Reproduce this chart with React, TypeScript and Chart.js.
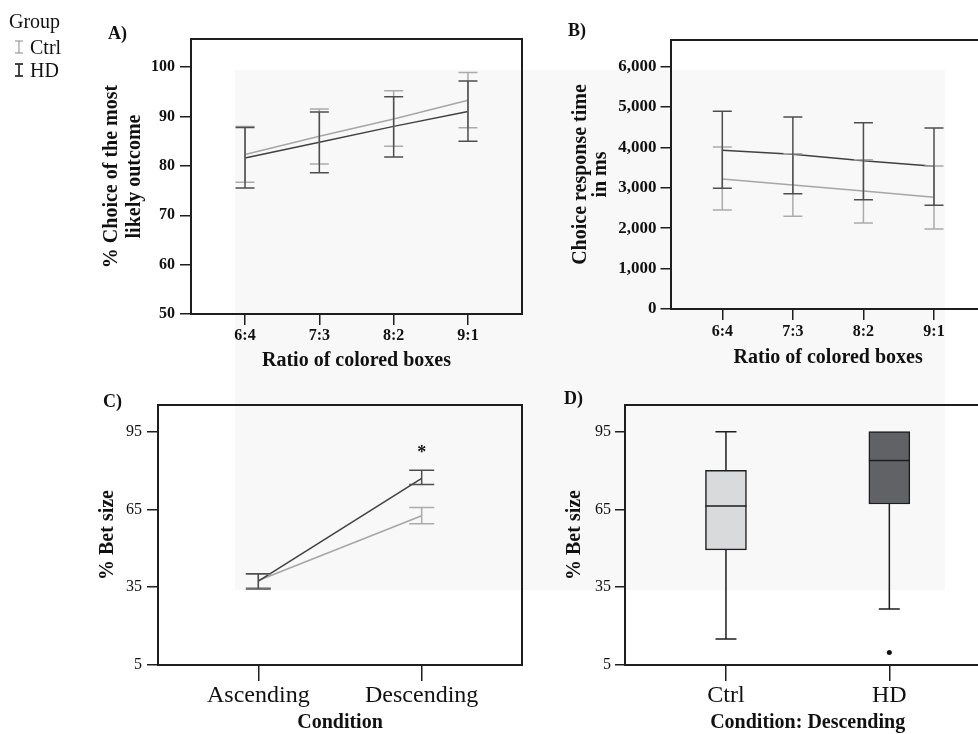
import React, { useEffect, useRef } from 'react';
import { Chart, registerables } from 'chart.js';

Chart.register(...registerables);

// ---------- Data ----------
const ratioLabels = ['6:4', '7:3', '8:2', '9:1'];
const choiceCtrlMean = [82.3, 86.0, 89.5, 93.3];
const choiceCtrlLow = [76.7, 80.4, 84.0, 87.7];
const choiceCtrlHigh = [88.0, 91.5, 95.2, 98.9];
const choiceHdMean = [81.6, 84.8, 88.0, 91.0];
const choiceHdLow = [75.5, 78.6, 81.8, 85.0];
const choiceHdHigh = [87.8, 90.9, 94.0, 97.2];
const choiceTicks = [50, 60, 70, 80, 90, 100];

const rtCtrlMean = [3219, 3070, 2921, 2765];
const rtCtrlLow = [2451, 2294, 2129, 1981];
const rtCtrlHigh = [4011, 3846, 3697, 3540];
const rtHdMean = [3928, 3829, 3672, 3532];
const rtHdLow = [2988, 2855, 2707, 2567];
const rtHdHigh = [4894, 4754, 4613, 4481];
const rtTicks = [0, 1000, 2000, 3000, 4000, 5000, 6000];

const conditionLabels = ['Ascending', 'Descending'];
const betCtrlMean = [37.6, 62.6];
const betCtrlLow = [34.8, 59.5];
const betCtrlHigh = [40.0, 65.8];
const betHdMean = [37.4, 77.0];
const betHdLow = [34.3, 74.6];
const betHdHigh = [40.2, 80.1];
const betTicks = [5, 35, 65, 95];
const significanceMarks = [{ index: 1, value: 88.3, text: '*' }];

const boxGroups = ['Ctrl', 'HD'];
const boxMin = [15.0, 26.6];
const boxQ1 = [49.4, 67.1];
const boxMedian = [66.3, 83.9];
const boxQ3 = [80.1, 95.0];
const boxMax = [95.0, 95.0];
const boxOutliers = [[] as number[], [9.8]];

// ---------- Styling ----------
const FONT = "'Liberation Serif', 'Times New Roman', serif";
const INK = '#1e1e1e';
const DARK_LINE = '#404040';
const DARK_ERR = '#4e4e4e';
const LIGHT_LINE = '#a6a6a6';
const LIGHT_ERR = '#ababab';
const W = 1000;
const H = 734;

const framePlugin = {
  id: 'frame',
  afterDraw(chart: any) {
    const { ctx, chartArea: a } = chart;
    ctx.save();
    ctx.strokeStyle = INK;
    ctx.lineWidth = 2;
    ctx.strokeRect(a.left, a.top, a.right - a.left, a.bottom - a.top);
    ctx.restore();
  },
};

const makeErrorBars = (capHalf: number) => ({
  id: 'errorBars',
  afterDatasetsDraw(chart: any) {
    const { ctx, scales } = chart;
    const xs = scales.x;
    const ys = scales.y;
    const dsets = chart.data.datasets;
    for (let d = dsets.length - 1; d >= 0; d--) {
      const ds: any = dsets[d];
      if (!ds.errLow) continue;
      ctx.save();
      ctx.strokeStyle = ds.errColor;
      ctx.lineWidth = 1.5;
      ds.data.forEach((p: any, i: number) => {
        const x = xs.getPixelForValue(p.x);
        const y1 = ys.getPixelForValue(ds.errLow[i]);
        const y2 = ys.getPixelForValue(ds.errHigh[i]);
        ctx.beginPath();
        ctx.moveTo(x, y1);
        ctx.lineTo(x, y2);
        ctx.moveTo(x - capHalf, y1);
        ctx.lineTo(x + capHalf, y1);
        ctx.moveTo(x - capHalf, y2);
        ctx.lineTo(x + capHalf, y2);
        ctx.stroke();
      });
      ctx.restore();
    }
  },
});

const starPlugin = {
  id: 'stars',
  afterDatasetsDraw(chart: any) {
    const { ctx, scales } = chart;
    ctx.save();
    ctx.fillStyle = '#111';
    ctx.font = `bold 18px ${FONT}`;
    ctx.textAlign = 'center';
    ctx.textBaseline = 'alphabetic';
    significanceMarks.forEach((m) => {
      ctx.fillText(m.text, scales.x.getPixelForValue(m.index), scales.y.getPixelForValue(m.value) + 9);
    });
    ctx.restore();
  },
};

const boxPlugin = {
  id: 'boxWhiskers',
  afterDatasetsDraw(chart: any) {
    const { ctx, scales } = chart;
    const xs = scales.x;
    const ys = scales.y;
    const meta = chart.getDatasetMeta(0);
    ctx.save();
    ctx.strokeStyle = INK;
    ctx.lineWidth = 1.5;
    boxGroups.forEach((_, i) => {
      const x = xs.getPixelForValue(i);
      const half = (meta.data[i] as any).width / 2;
      const cap = 10.5;
      const yMax = ys.getPixelForValue(boxMax[i]);
      const yQ3 = ys.getPixelForValue(boxQ3[i]);
      const yQ1 = ys.getPixelForValue(boxQ1[i]);
      const yMin = ys.getPixelForValue(boxMin[i]);
      const yMed = ys.getPixelForValue(boxMedian[i]);
      ctx.beginPath();
      if (boxMax[i] > boxQ3[i]) {
        ctx.moveTo(x, yQ3);
        ctx.lineTo(x, yMax);
        ctx.moveTo(x - cap, yMax);
        ctx.lineTo(x + cap, yMax);
      }
      ctx.moveTo(x, yQ1);
      ctx.lineTo(x, yMin);
      ctx.moveTo(x - cap, yMin);
      ctx.lineTo(x + cap, yMin);
      ctx.moveTo(x - half, yMed);
      ctx.lineTo(x + half, yMed);
      ctx.stroke();
    });
    ctx.restore();
  },
};

type AxisOpts = {
  min: number;
  max: number;
  ticks: number[];
  labels?: string[];
  size: number;
  tickLength: number;
  tickPad: number;
  tickFont: any;
  title: string | string[];
  titleFont: any;
  titlePad: number;
  fmt?: (v: number) => string;
};

const yAxis = (o: AxisOpts) => ({
  type: 'linear',
  position: 'left',
  min: o.min,
  max: o.max,
  afterBuildTicks: (s: any) => {
    s.ticks = o.ticks.map((v) => ({ value: v }));
  },
  afterFit: (s: any) => {
    s.width = o.size;
  },
  border: { display: false },
  grid: { drawOnChartArea: false, drawTicks: true, tickLength: o.tickLength, color: INK, lineWidth: 1.5 },
  ticks: {
    font: o.tickFont,
    color: '#111',
    padding: o.tickPad,
    autoSkip: false,
    callback: (v: number) => (o.fmt ? o.fmt(v) : String(v)),
  },
  title: { display: true, text: o.title, font: o.titleFont, color: '#111', padding: { top: o.titlePad, bottom: 0 } },
});

const xAxis = (o: AxisOpts) => ({
  type: 'linear',
  position: 'bottom',
  min: o.min,
  max: o.max,
  offset: false,
  afterBuildTicks: (s: any) => {
    s.ticks = o.ticks.map((v) => ({ value: v }));
  },
  afterFit: (s: any) => {
    s.height = o.size;
  },
  border: { display: false },
  grid: { offset: false, drawOnChartArea: false, drawTicks: true, tickLength: o.tickLength, color: INK, lineWidth: 1.5 },
  ticks: {
    font: o.tickFont,
    color: '#111',
    padding: o.tickPad,
    autoSkip: false,
    maxRotation: 0,
    minRotation: 0,
    callback: (v: number) => (o.labels ? o.labels[v] ?? '' : String(v)),
  },
  title: { display: true, text: o.title, font: o.titleFont, color: '#111', padding: { top: 0, bottom: o.titlePad } },
});

const lineDs = (label: string, means: number[], low: number[], high: number[], dark: boolean) => ({
  label,
  data: means.map((m, i) => ({ x: i, y: m })),
  borderColor: dark ? DARK_LINE : LIGHT_LINE,
  borderWidth: 1.5,
  pointRadius: 0,
  tension: 0,
  fill: false,
  errLow: low,
  errHigh: high,
  errColor: dark ? DARK_ERR : LIGHT_ERR,
});

const basePlugins = {
  legend: { display: false },
  tooltip: { enabled: false },
};

function makeCharts(cA: HTMLCanvasElement, cB: HTMLCanvasElement, cC: HTMLCanvasElement, cD: HTMLCanvasElement) {
  const charts: Chart[] = [];

  // A
  charts.push(
    new Chart(cA, {
      type: 'line',
      data: {
        datasets: [
          lineDs('HD', choiceHdMean, choiceHdLow, choiceHdHigh, true),
          lineDs('Ctrl', choiceCtrlMean, choiceCtrlLow, choiceCtrlHigh, false),
        ] as any,
      },
      options: {
        responsive: false,
        animation: false,
        devicePixelRatio: 1,
        layout: { padding: { left: 0, top: 39, right: W - 522, bottom: H - 314 - 60 } },
        plugins: basePlugins as any,
        scales: {
          x: xAxis({
            min: -0.727, max: 3.727, ticks: ratioLabels.map((_, i) => i), labels: ratioLabels, size: 60,
            tickLength: 11, tickPad: 1.5, tickFont: { family: FONT, size: 16, weight: 'bold' },
            title: 'Ratio of colored boxes', titleFont: { family: FONT, size: 20, weight: 'bold', lineHeight: 1.2 }, titlePad: 1,
          }) as any,
          y: yAxis({
            min: 50, max: 105.7, ticks: choiceTicks, size: 191,
            tickLength: 11, tickPad: 5, tickFont: { family: FONT, size: 16, weight: 'bold' },
            title: ['% Choice of the most', 'likely outcome'], titleFont: { family: FONT, size: 20, weight: 'bold', lineHeight: 1.15 }, titlePad: 100.5,
          }) as any,
        },
      },
      plugins: [makeErrorBars(9.5), framePlugin],
    })
  );

  // B
  charts.push(
    new Chart(cB, {
      type: 'line',
      data: {
        datasets: [
          lineDs('HD', rtHdMean, rtHdLow, rtHdHigh, true),
          lineDs('Ctrl', rtCtrlMean, rtCtrlLow, rtCtrlHigh, false),
        ] as any,
      },
      options: {
        responsive: false,
        animation: false,
        devicePixelRatio: 1,
        layout: { padding: { left: 0, top: 40, right: W - 985.3, bottom: H - 309 - 61 } },
        plugins: basePlugins as any,
        scales: {
          x: xAxis({
            min: -0.727, max: 3.727, ticks: ratioLabels.map((_, i) => i), labels: ratioLabels, size: 61,
            tickLength: 11, tickPad: 2.4, tickFont: { family: FONT, size: 16, weight: 'bold' },
            title: 'Ratio of colored boxes', titleFont: { family: FONT, size: 20, weight: 'bold', lineHeight: 1.2 }, titlePad: 0,
          }) as any,
          y: yAxis({
            min: 0, max: 6660, ticks: rtTicks, size: 671,
            tickLength: 10.5, tickPad: 4, tickFont: { family: FONT, size: 17, weight: 'bold' },
            title: ['Choice response time', 'in ms'], titleFont: { family: FONT, size: 20, weight: 'bold', lineHeight: 0.97 }, titlePad: 571.3,
            fmt: (v) => v.toLocaleString('en-US'),
          }) as any,
        },
      },
      plugins: [makeErrorBars(9.5), framePlugin],
    })
  );

  // C
  charts.push(
    new Chart(cC, {
      type: 'line',
      data: {
        datasets: [
          lineDs('HD', betHdMean, betHdLow, betHdHigh, true),
          lineDs('Ctrl', betCtrlMean, betCtrlLow, betCtrlHigh, false),
        ] as any,
      },
      options: {
        responsive: false,
        animation: false,
        devicePixelRatio: 1,
        layout: { padding: { left: 0, top: 405, right: W - 522, bottom: 0 } },
        plugins: basePlugins as any,
        scales: {
          x: xAxis({
            min: -0.614, max: 1.614, ticks: [0, 1], labels: conditionLabels, size: 69,
            tickLength: 16, tickPad: 0, tickFont: { family: FONT, size: 24, weight: 'normal', lineHeight: 1.2 },
            title: 'Condition', titleFont: { family: FONT, size: 20, weight: 'bold', lineHeight: 1.0 }, titlePad: 1,
          }) as any,
          y: yAxis({
            min: 5, max: 105.3, ticks: betTicks, size: 158,
            tickLength: 11, tickPad: 5, tickFont: { family: FONT, size: 16, weight: 'normal' },
            title: '% Bet size', titleFont: { family: FONT, size: 20, weight: 'bold', lineHeight: 1.2 }, titlePad: 96,
          }) as any,
        },
      },
      plugins: [makeErrorBars(12.5), starPlugin, framePlugin],
    })
  );

  // D
  charts.push(
    new Chart(cD, {
      type: 'bar',
      data: {
        datasets: [
          {
            type: 'bar',
            label: 'IQR',
            data: boxGroups.map((_, i) => ({ x: i, y: [boxQ1[i], boxQ3[i]] })),
            backgroundColor: ['#d9dadc', '#616266'],
            borderColor: INK,
            borderWidth: 1.5,
            borderSkipped: false,
            barThickness: 41,
          },
          {
            type: 'scatter',
            label: 'Outliers',
            data: boxOutliers.flatMap((arr, i) => arr.map((v) => ({ x: i, y: v }))),
            backgroundColor: '#111',
            borderColor: '#111',
            pointRadius: 2.5,
            borderWidth: 0,
          },
        ] as any,
      },
      options: {
        responsive: false,
        animation: false,
        devicePixelRatio: 1,
        layout: { padding: { left: 0, top: 405, right: W - 990.3, bottom: 0 } },
        plugins: basePlugins as any,
        scales: {
          x: xAxis({
            min: -0.618, max: 1.618, ticks: [0, 1], labels: boxGroups, size: 69,
            tickLength: 16, tickPad: 0, tickFont: { family: FONT, size: 24, weight: 'normal', lineHeight: 1.2 },
            title: 'Condition: Descending', titleFont: { family: FONT, size: 20, weight: 'bold', lineHeight: 1.0 }, titlePad: 1,
          }) as any,
          y: yAxis({
            min: 5, max: 105.3, ticks: betTicks, size: 625,
            tickLength: 10, tickPad: 4, tickFont: { family: FONT, size: 16, weight: 'normal' },
            title: '% Bet size', titleFont: { family: FONT, size: 20, weight: 'bold', lineHeight: 1.2 }, titlePad: 563,
          }) as any,
        },
      },
      plugins: [boxPlugin, framePlugin],
    })
  );

  return charts;
}

const ErrIcon = ({ left, top, color, width }: { left: number; top: number; color: string; width: number }) => (
  <svg width={10} height={14} style={{ position: 'absolute', left, top }}>
    <line x1={5} y1={1} x2={5} y2={13} stroke={color} strokeWidth={width} />
    <line x1={1} y1={1} x2={9} y2={1} stroke={color} strokeWidth={width} />
    <line x1={1} y1={13} x2={9} y2={13} stroke={color} strokeWidth={width} />
  </svg>
);

export default function App() {
  const refA = useRef<HTMLCanvasElement>(null);
  const refB = useRef<HTMLCanvasElement>(null);
  const refC = useRef<HTMLCanvasElement>(null);
  const refD = useRef<HTMLCanvasElement>(null);

  useEffect(() => {
    document.body.style.margin = '0';
    const charts = makeCharts(refA.current!, refB.current!, refC.current!, refD.current!);
    return () => charts.forEach((c) => c.destroy());
  }, []);

  const canvasStyle: React.CSSProperties = { position: 'absolute', left: 0, top: 0, width: W, height: H };
  const txt = (extra: React.CSSProperties): React.CSSProperties => ({
    position: 'absolute',
    fontFamily: FONT,
    color: '#111',
    lineHeight: '20px',
    whiteSpace: 'nowrap',
    ...extra,
  });

  return (
    <div style={{ position: 'relative', width: 978, height: 734, overflow: 'hidden', background: '#fff' }}>
      <div style={{ position: 'absolute', left: 235, top: 70, width: 710, height: 520, background: '#f8f8f8' }} />
      <canvas ref={refA} width={W} height={H} style={canvasStyle} />
      <canvas ref={refB} width={W} height={H} style={canvasStyle} />
      <canvas ref={refC} width={W} height={H} style={canvasStyle} />
      <canvas ref={refD} width={W} height={H} style={canvasStyle} />
      <div style={txt({ left: 9, top: 11, fontSize: 20 })}>Group</div>
      <ErrIcon left={14} top={40} color="#8a8a8a" width={1} />
      <div style={txt({ left: 30, top: 37, fontSize: 20 })}>Ctrl</div>
      <ErrIcon left={14} top={63} color="#333" width={1.8} />
      <div style={txt({ left: 30, top: 60, fontSize: 20 })}>HD</div>
      <div style={txt({ left: 108, top: 23, fontSize: 18, fontWeight: 'bold' })}>A)</div>
      <div style={txt({ left: 568, top: 20, fontSize: 18, fontWeight: 'bold' })}>B)</div>
      <div style={txt({ left: 103, top: 391, fontSize: 18, fontWeight: 'bold' })}>C)</div>
      <div style={txt({ left: 564, top: 388, fontSize: 18, fontWeight: 'bold' })}>D)</div>
    </div>
  );
}
